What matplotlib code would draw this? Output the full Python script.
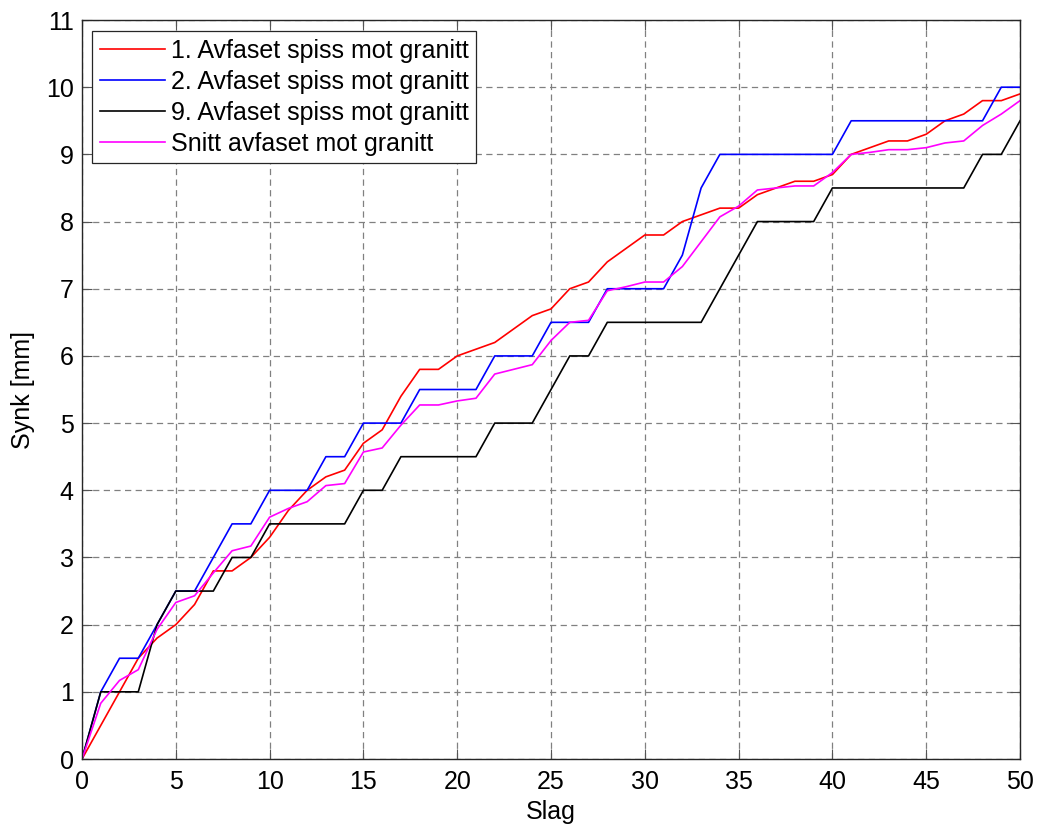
import numpy as np
import matplotlib
matplotlib.use("Agg")
from matplotlib import pyplot as plt

# data
slag = list(range(0, 51))

spiss_1 = [0, 0.5, 1.0, 1.5, 1.8, 2.0, 2.3, 2.8, 2.8, 3.0,
           3.3, 3.7, 4.0, 4.2, 4.3, 4.7, 4.9, 5.4, 5.8, 5.8,
           6.0, 6.1, 6.2, 6.4, 6.6, 6.7, 7.0, 7.1, 7.4, 7.6,
           7.8, 7.8, 8.0, 8.1, 8.2, 8.2, 8.4, 8.5, 8.6, 8.6,
           8.7, 9.0, 9.1, 9.2, 9.2, 9.3, 9.5, 9.6, 9.8, 9.8, 9.9]

spiss_2 = [0, 1.0, 1.5, 1.5, 2.0, 2.5, 2.5, 3.0, 3.5, 3.5,
           4.0, 4.0, 4.0, 4.5, 4.5, 5.0, 5.0, 5.0, 5.5, 5.5,
           5.5, 5.5, 6.0, 6.0, 6.0, 6.5, 6.5, 6.5, 7.0, 7.0,
           7.0, 7.0, 7.5, 8.5, 9.0, 9.0, 9.0, 9.0, 9.0, 9.0,
           9.0, 9.5, 9.5, 9.5, 9.5, 9.5, 9.5, 9.5, 9.5, 10.0, 10.0]

spiss_9 = [0, 1.0, 1.0, 1.0, 2.0, 2.5, 2.5, 2.5, 3.0, 3.0,
           3.5, 3.5, 3.5, 3.5, 3.5, 4.0, 4.0, 4.5, 4.5, 4.5,
           4.5, 4.5, 5.0, 5.0, 5.0, 5.5, 6.0, 6.0, 6.5, 6.5,
           6.5, 6.5, 6.5, 6.5, 7.0, 7.5, 8.0, 8.0, 8.0, 8.0,
           8.5, 8.5, 8.5, 8.5, 8.5, 8.5, 8.5, 8.5, 9.0, 9.0, 9.5]

snitt = [0, 0.83, 1.17, 1.33, 1.93, 2.33, 2.43, 2.77, 3.10, 3.17,
         3.60, 3.73, 3.83, 4.07, 4.10, 4.57, 4.63, 4.97, 5.27, 5.27,
         5.33, 5.37, 5.73, 5.80, 5.87, 6.23, 6.50, 6.53, 6.97, 7.03,
         7.10, 7.10, 7.33, 7.70, 8.07, 8.23, 8.47, 8.50, 8.53, 8.53,
         8.73, 9.00, 9.03, 9.07, 9.07, 9.10, 9.17, 9.20, 9.43, 9.60, 9.80]

labels = ["1. Avfaset spiss mot granitt",
          "2. Avfaset spiss mot granitt",
          "9. Avfaset spiss mot granitt",
          "Snitt avfaset mot granitt"]
colors = ["#ff0000", "#0000ff", "#000000", "#ff00ff"]

plt.rcParams["font.family"] = ["Liberation Sans", "DejaVu Sans"]
plt.rcParams["font.size"] = 18

fig = plt.figure(figsize=(10.38, 8.27), dpi=100)
ax = fig.add_axes([0.079, 0.0822, 0.9037, 0.8936])

for series, lab, col in zip([spiss_1, spiss_2, spiss_9, snitt], labels, colors):
    ax.plot(slag, series, color=col, linewidth=1.2, label=lab)

ax.set_xlim(0, 50)
ax.set_ylim(0, 11)
ax.set_xticks(np.arange(0, 51, 5))
ax.set_yticks(np.arange(0, 12, 1))
ax.grid(True, linestyle=(0, (5, 3.5)), color="#808080", linewidth=0.9)
ax.tick_params(direction="in", top=True, right=True, length=7, width=0.8,
               color="#555555", labelsize=18)
ax.tick_params(axis="x", pad=8)
ax.tick_params(axis="y", pad=6)
for s in ax.spines.values():
    s.set_linewidth(1.0)
    s.set_color("#262626")

ax.set_xlabel("Slag", fontsize=18, labelpad=4)
ax.set_ylabel("Synk [mm]", fontsize=18, labelpad=8)

leg = ax.legend(loc="upper left", bbox_to_anchor=(10 / 938, 1 - 11 / 739), fontsize=18,
                frameon=True, fancybox=False, edgecolor="#262626", framealpha=1,
                handlelength=2.6, handletextpad=0.25, borderpad=0.3, labelspacing=0.28,
                borderaxespad=0)
leg.get_frame().set_linewidth(0.9)

fig.savefig("out.png", dpi=100)
